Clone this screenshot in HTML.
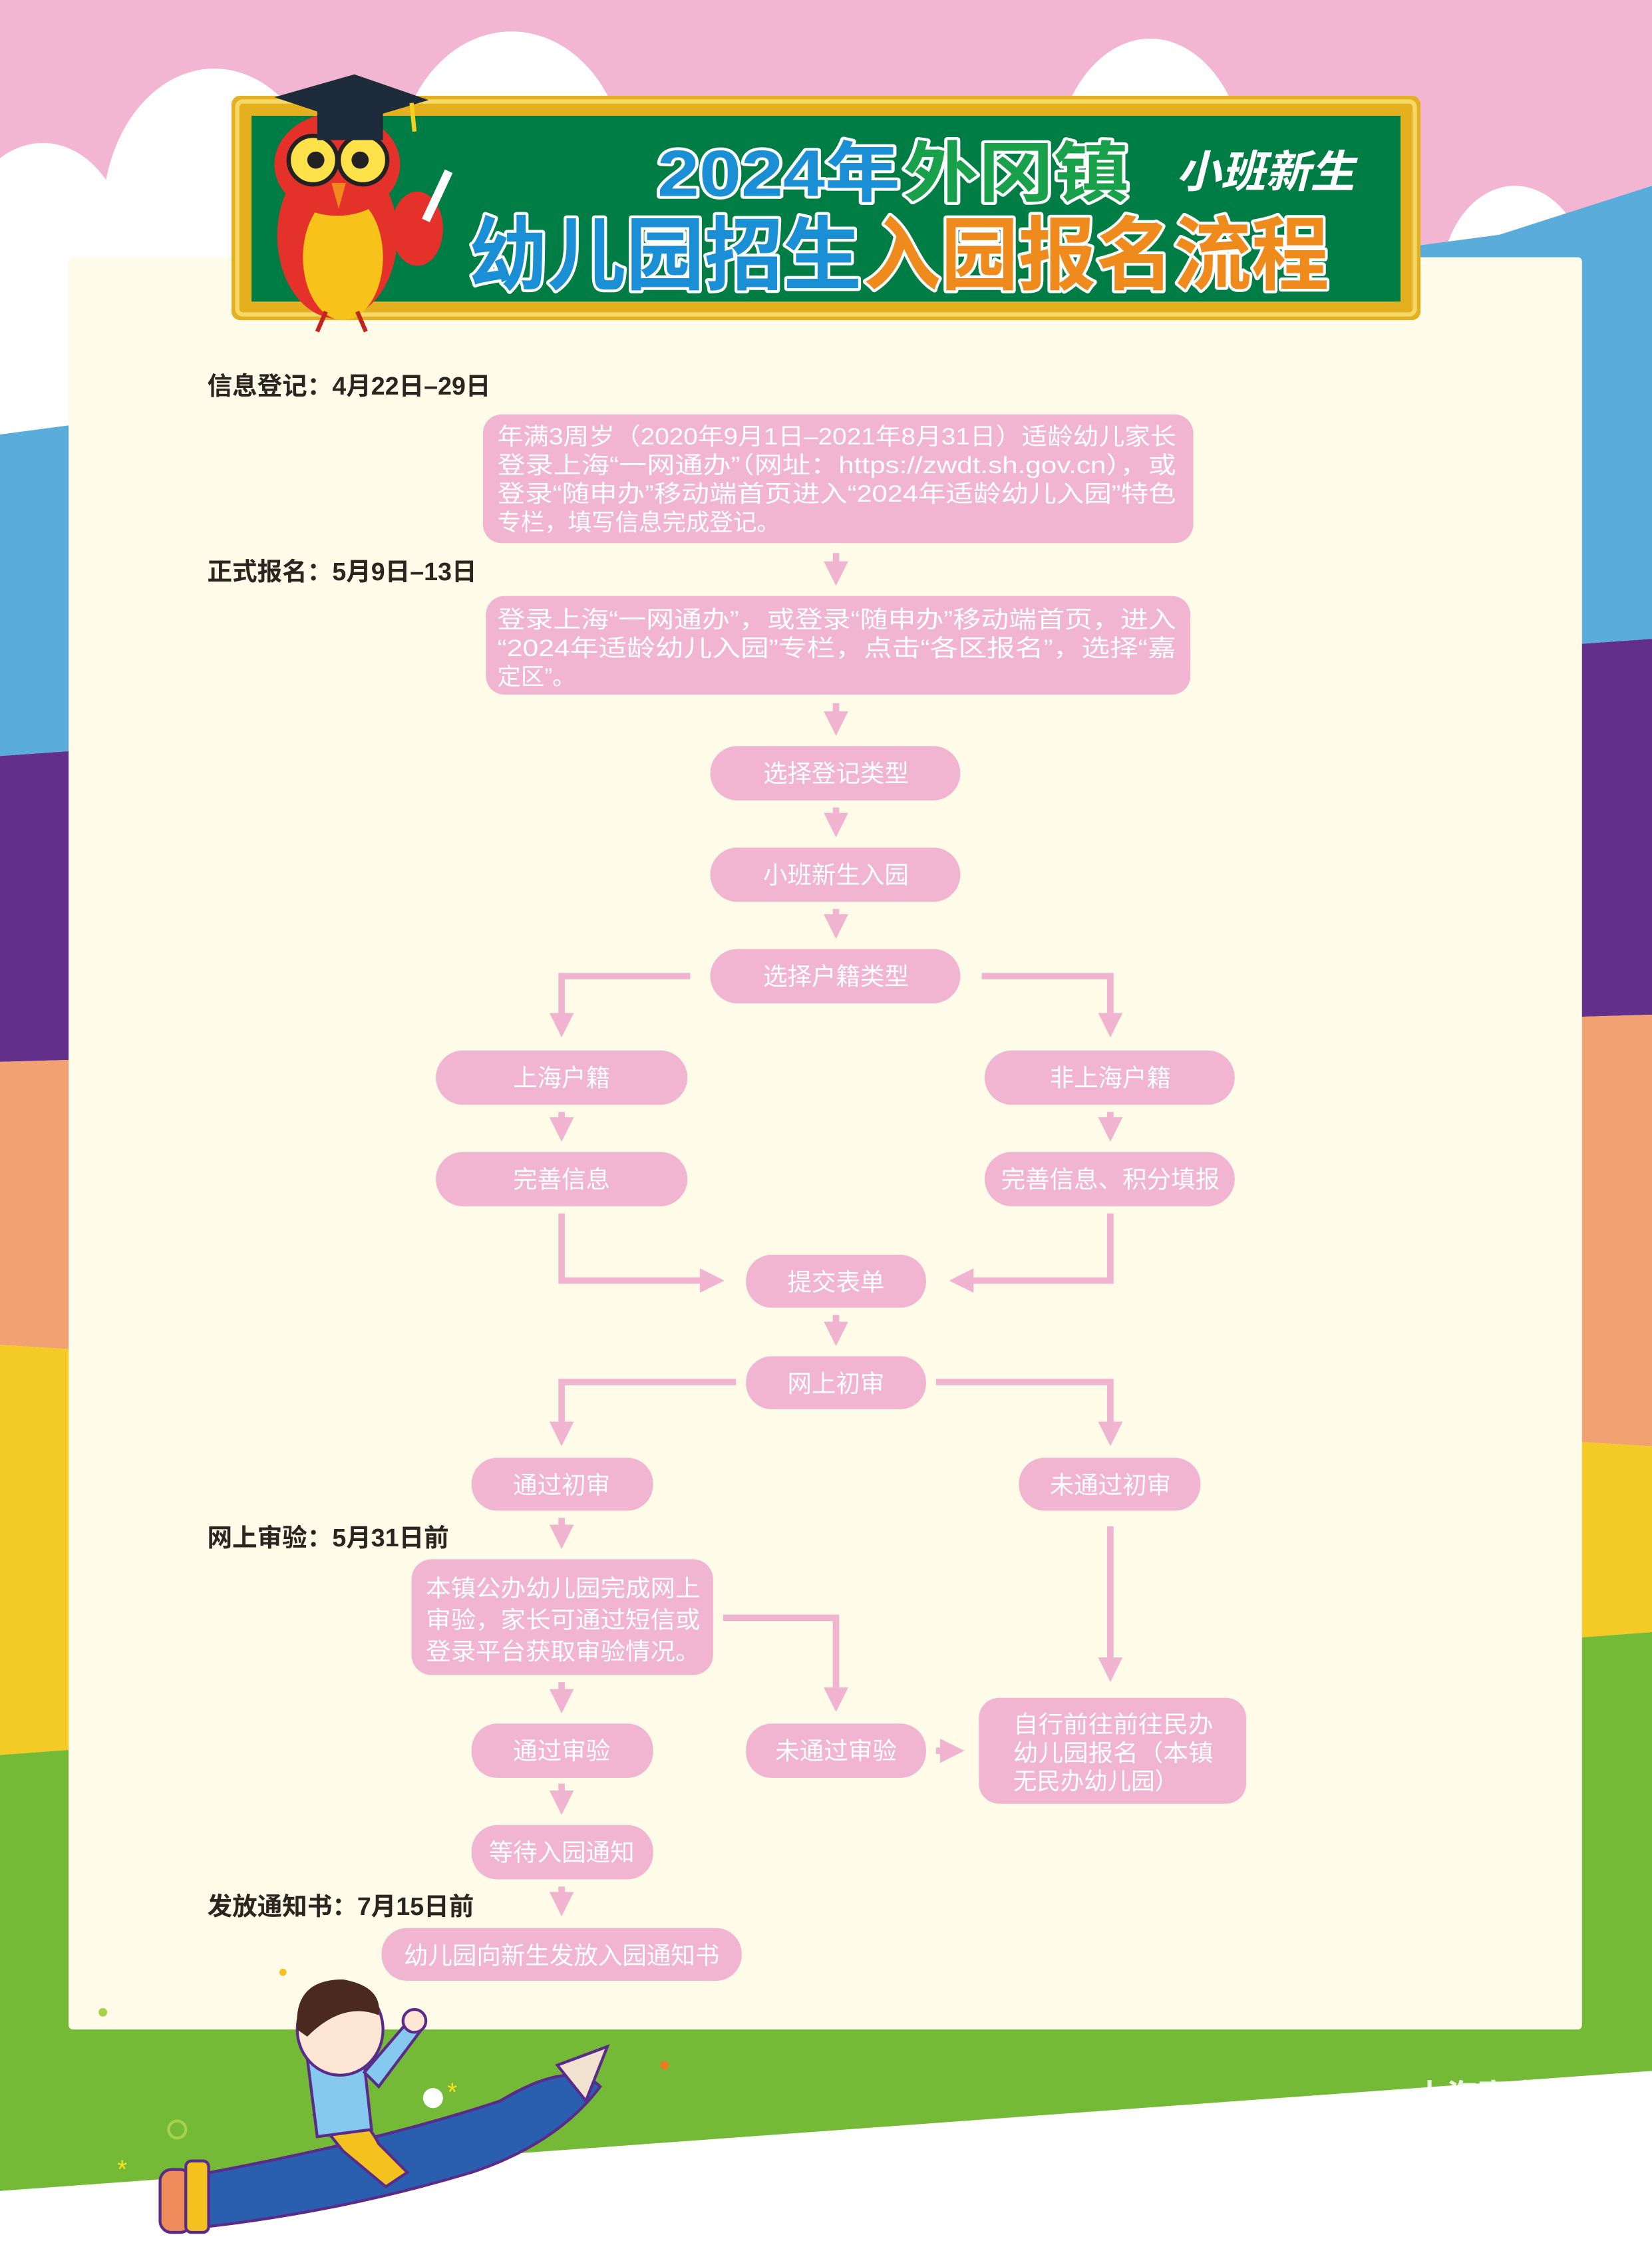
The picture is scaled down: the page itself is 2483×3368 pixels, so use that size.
<!DOCTYPE html>
<html><head><meta charset="utf-8">
<style>html,body{margin:0;padding:0;background:#fff}svg{display:block}
text{font-family:"Liberation Sans","Noto Sans CJK SC",sans-serif}</style></head>
<body>
<svg xmlns="http://www.w3.org/2000/svg" width="2483" height="3368" viewBox="0 0 1156 1568">
<defs>
<marker id="ah" viewBox="0 0 10 10" refX="6" refY="5" markerWidth="3.8" markerHeight="3.8" orient="auto" markerUnits="strokeWidth"><path d="M0,0 L10,5 L0,10 z" fill="#f0b3d0"/></marker>
</defs>
<rect width="1156" height="1568" fill="#fff"/>
<rect width="1156" height="320" fill="#f2b5d2"/>
<g fill="#fff">
<ellipse cx="358" cy="120" rx="80" ry="98"/>
<ellipse cx="150" cy="150" rx="78" ry="102"/>
<ellipse cx="470" cy="175" rx="110" ry="80"/>
<ellipse cx="805" cy="125" rx="68" ry="98"/>
<ellipse cx="690" cy="160" rx="80" ry="70"/>
<ellipse cx="30" cy="180" rx="60" ry="80"/>
<ellipse cx="1060" cy="200" rx="52" ry="70"/>
<rect x="0" y="180" width="1156" height="140"/>
</g>
<polygon points="0,304 1156,150 1156,447 0,529" fill="#5aaddb"/>
<polygon points="1000,180 1156,130 1156,170 1000,200" fill="#5aaddb"/>
<polygon points="0,529 1156,447 1156,710 0,743" fill="#62308a"/>
<polygon points="0,743 1156,710 1156,1012 0,941" fill="#f2a172"/>
<polygon points="0,941 1156,1012 1156,1142 0,1228" fill="#f4cb26"/>
<polygon points="0,1228 1156,1142 1156,1449 0,1533" fill="#74ba37"/>
<rect x="48" y="180" width="1059" height="1240" rx="3" fill="#fefbe8"/>
<rect x="162" y="67" width="832" height="157" rx="6" fill="#e5b020"/>
<rect x="166" y="71" width="824" height="149" rx="4" fill="none" stroke="#f6d867" stroke-width="3"/>
<rect x="176" y="81" width="804" height="130" fill="#007c45"/>
<g>
<ellipse cx="236" cy="165" rx="42" ry="58" fill="#e4322b"/>
<ellipse cx="240" cy="180" rx="28" ry="44" fill="#f7c21a"/>
<ellipse cx="236" cy="115" rx="44" ry="36" fill="#e4322b"/>
<circle cx="219" cy="112" r="17" fill="#ffe14a" stroke="#222" stroke-width="3"/>
<circle cx="254" cy="112" r="17" fill="#ffe14a" stroke="#222" stroke-width="3"/>
<circle cx="221" cy="112" r="6" fill="#222"/>
<circle cx="252" cy="112" r="6" fill="#222"/>
<path d="M232,128 L242,128 L237,146 z" fill="#f08a1c"/>
<ellipse cx="292" cy="160" rx="18" ry="26" fill="#e4322b"/>
<rect x="303" y="118" width="6" height="38" fill="#fff" transform="rotate(25 306 137)"/>
<polygon points="192,68 248,52 300,70 246,86" fill="#1e2b3a"/>
<rect x="222" y="74" width="46" height="24" fill="#1e2b3a"/>
<path d="M288,72 L290,92" stroke="#f4d01e" stroke-width="3"/>
<path d="M228,218 l-6,14 M250,218 l6,14" stroke="#c0261e" stroke-width="3"/>
</g>
<g font-weight="bold" stroke="#fff" stroke-width="4" paint-order="stroke" stroke-linejoin="round">
<text x="460" y="137" font-size="46" fill="#1a8fd6" textLength="170" lengthAdjust="spacingAndGlyphs">2024年</text>
<text x="632" y="137" font-size="46" fill="#18a04a" textLength="158" lengthAdjust="spacingAndGlyphs">外冈镇</text>
<text x="328" y="198" font-size="56" fill="#1a8fd6" textLength="275" lengthAdjust="spacingAndGlyphs">幼儿园招生</text>
<text x="604" y="198" font-size="56" fill="#ef8a1d" textLength="326" lengthAdjust="spacingAndGlyphs">入园报名流程</text>
</g>
<text x="823" y="131" font-size="31" font-weight="bold" font-style="italic" fill="#fff" textLength="125" lengthAdjust="spacingAndGlyphs">小班新生</text>
<g font-size="17.5" font-weight="bold" fill="#2b2520">
<text x="145" y="276">信息登记：4月22日–29日</text>
<text x="145" y="406">正式报名：5月9日–13日</text>
<text x="145" y="1082">网上审验：5月31日前</text>
<text x="145" y="1340">发放通知书：7月15日前</text>
</g>
<g fill="#f1b4d1">
<rect x="338" y="290" width="497" height="90" rx="13"/>
<rect x="340" y="417" width="493" height="69" rx="13"/>
<rect x="497" y="522" width="175" height="38" rx="19"/>
<rect x="497" y="593" width="175" height="38" rx="19"/>
<rect x="497" y="664" width="175" height="38" rx="19"/>
<rect x="305" y="735" width="176" height="38" rx="19"/>
<rect x="689" y="735" width="175" height="38" rx="19"/>
<rect x="305" y="806" width="176" height="38" rx="19"/>
<rect x="689" y="806" width="175" height="38" rx="19"/>
<rect x="522" y="878" width="126" height="37" rx="18"/>
<rect x="522" y="949" width="126" height="37" rx="18"/>
<rect x="330" y="1020" width="127" height="37" rx="18"/>
<rect x="713" y="1020" width="127" height="37" rx="18"/>
<rect x="288" y="1091" width="211" height="81" rx="14"/>
<rect x="330" y="1206" width="127" height="38" rx="18"/>
<rect x="522" y="1206" width="126" height="38" rx="18"/>
<rect x="685" y="1188" width="187" height="74" rx="14"/>
<rect x="330" y="1277" width="127" height="38" rx="18"/>
<rect x="267" y="1349" width="252" height="37" rx="18"/>
</g>
<g fill="#fff" font-size="16.5">
<text x="348" y="311" textLength="475" lengthAdjust="spacingAndGlyphs">年满3周岁（2020年9月1日–2021年8月31日）适龄幼儿家长</text>
<text x="348" y="331" textLength="475" lengthAdjust="spacingAndGlyphs">登录上海“一网通办”（网址：https://zwdt.sh.gov.cn），或</text>
<text x="348" y="351" textLength="475" lengthAdjust="spacingAndGlyphs">登录“随申办”移动端首页进入“2024年适龄幼儿入园”特色</text>
<text x="348" y="371">专栏，填写信息完成登记。</text>
<text x="348" y="439" textLength="475" lengthAdjust="spacingAndGlyphs">登录上海“一网通办”，或登录“随申办”移动端首页，进入</text>
<text x="348" y="459" textLength="475" lengthAdjust="spacingAndGlyphs">“2024年适龄幼儿入园”专栏，点击“各区报名”，选择“嘉</text>
<text x="348" y="479">定区”。</text>
<text x="298" y="1117" textLength="192" lengthAdjust="spacingAndGlyphs">本镇公办幼儿园完成网上</text>
<text x="298" y="1139" textLength="192" lengthAdjust="spacingAndGlyphs">审验，家长可通过短信或</text>
<text x="298" y="1161" textLength="192" lengthAdjust="spacingAndGlyphs">登录平台获取审验情况。</text>
<text x="709" y="1212" textLength="140" lengthAdjust="spacingAndGlyphs">自行前往前往民办</text>
<text x="709" y="1232" textLength="140" lengthAdjust="spacingAndGlyphs">幼儿园报名（本镇</text>
<text x="709" y="1252">无民办幼儿园）</text>
</g>
<g fill="#fff" font-size="17" text-anchor="middle">
<text x="585" y="547">选择登记类型</text>
<text x="585" y="618">小班新生入园</text>
<text x="585" y="689">选择户籍类型</text>
<text x="393" y="760">上海户籍</text>
<text x="777" y="760">非上海户籍</text>
<text x="393" y="831">完善信息</text>
<text x="777" y="831">完善信息、积分填报</text>
<text x="585" y="903">提交表单</text>
<text x="585" y="974">网上初审</text>
<text x="393" y="1045">通过初审</text>
<text x="777" y="1045">未通过初审</text>
<text x="393" y="1231">通过审验</text>
<text x="585" y="1231">未通过审验</text>
<text x="393" y="1302">等待入园通知</text>
<text x="393" y="1374">幼儿园向新生发放入园通知书</text>
</g>
<g fill="none" stroke="#f0b3d0" stroke-width="4.5" marker-end="url(#ah)">
<path d="M585,387 V403"/>
<path d="M585,492 V508"/>
<path d="M585,565 V579"/>
<path d="M585,636 V650"/>
<path d="M483,683 H393 V719"/>
<path d="M687,683 H777 V719"/>
<path d="M393,778 V792"/>
<path d="M777,778 V792"/>
<path d="M393,849 V896 H500"/>
<path d="M777,849 V896 H671"/>
<path d="M585,920 V935"/>
<path d="M515,967 H393 V1005"/>
<path d="M655,967 H777 V1005"/>
<path d="M393,1062 V1077"/>
<path d="M506,1132 H585 V1191"/>
<path d="M777,1068 V1170"/>
<path d="M393,1177 V1192"/>
<path d="M655,1225 H668"/>
<path d="M393,1248 V1263"/>
<path d="M393,1320 V1334"/>
</g>
<g>
<path d="M120,1525 Q260,1500 350,1470 Q400,1440 420,1460 Q390,1500 330,1520 Q230,1550 125,1560 z" fill="#2a5fb0" stroke="#5a2c8a" stroke-width="2"/>
<polygon points="390,1445 425,1432 410,1470" fill="#f1e2cf" stroke="#5a2c8a" stroke-width="2"/>
<rect x="112" y="1518" width="22" height="44" rx="8" fill="#ef8a5a" stroke="#5a2c8a" stroke-width="2"/>
<rect x="130" y="1512" width="16" height="50" rx="4" fill="#f4c21e" stroke="#5a2c8a" stroke-width="2"/>
<path d="M220,1480 Q250,1470 265,1500 L285,1520 L270,1530 L240,1505 z" fill="#f4c21e" stroke="#5a2c8a" stroke-width="2"/>
<path d="M215,1440 Q240,1430 255,1445 L260,1490 L222,1495 z" fill="#86c9ee" stroke="#5a2c8a" stroke-width="2"/>
<path d="M255,1450 L285,1415 L295,1420 L265,1460 z" fill="#86c9ee" stroke="#5a2c8a" stroke-width="2"/>
<circle cx="290" cy="1414" r="8" fill="#fde6d4" stroke="#5a2c8a" stroke-width="2"/>
<ellipse cx="238" cy="1420" rx="30" ry="32" fill="#fde6d4" stroke="#5a2c8a" stroke-width="2"/>
<path d="M208,1420 Q205,1385 240,1385 Q268,1390 265,1410 Q240,1400 215,1425 z" fill="#4a2a1e"/>
<circle cx="303" cy="1468" r="7" fill="#fff"/>
<circle cx="124" cy="1490" r="6" fill="none" stroke="#a6d24a" stroke-width="2"/>
<text x="82" y="1524" font-size="18" fill="#f4e21e">*</text>
<text x="313" y="1470" font-size="18" fill="#f4e21e">*</text>
<circle cx="198" cy="1380" r="2.5" fill="#f4c21e"/>
<circle cx="465" cy="1445" r="3" fill="#f07a1e"/>
<circle cx="72" cy="1408" r="3" fill="#a6d24a"/>
</g>
<text x="990" y="1474" font-size="22" fill="#fff" opacity="0.85" font-weight="bold">上海嘉定</text>
</svg>
</body></html>
